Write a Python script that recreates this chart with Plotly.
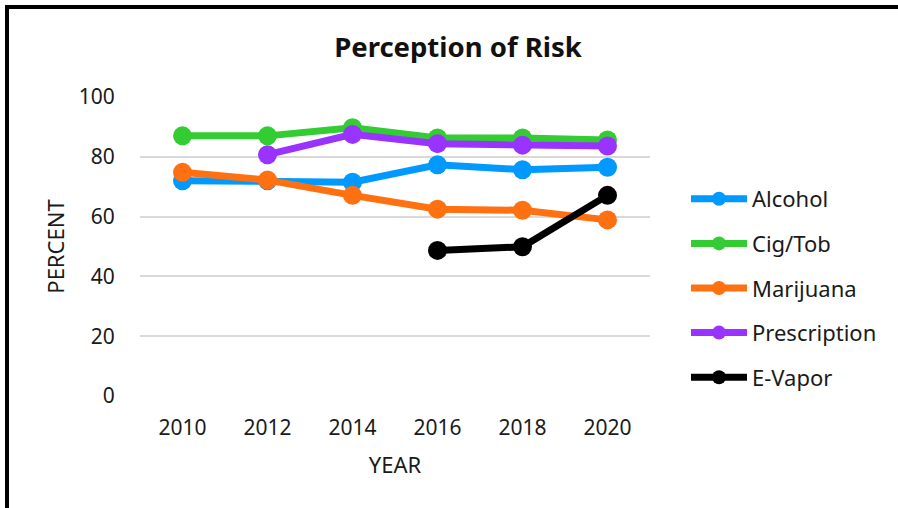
import plotly.graph_objects as go

years = ["2010", "2012", "2014", "2016", "2018", "2020"]
alcohol = [72.0, 72.0, 71.5, 77.3, 75.7, 76.5]
cig_tob = [87.0, 87.0, 89.7, 86.3, 86.3, 85.6]
marijuana = [74.8, 72.2, 67.1, 62.5, 62.1, 58.9]
prescription = [None, 80.7, 87.5, 84.4, 83.9, 83.6]
e_vapor = [None, None, None, 48.7, 49.9, 67.1]

series = [
    ("Alcohol", alcohol, "#0099FF"),
    ("Cig/Tob", cig_tob, "#33CC33"),
    ("Marijuana", marijuana, "#FF7011"),
    ("Prescription", prescription, "#9933FF"),
    ("E-Vapor", e_vapor, "#000000"),
]

FONT = "Noto Sans"
TXT = "#1a1a1a"

fig = go.Figure()
for name, vals, col in series:
    fig.add_trace(go.Scatter(
        x=years, y=vals, name=name, mode="lines+markers",
        line=dict(color=col, width=7),
        marker=dict(color=col, size=19),
        legendgroup=name, showlegend=False,
    ))
# legend entries (smaller symbols, as in the reference legend)
for name, vals, col in series:
    fig.add_trace(go.Scatter(
        x=[None], y=[None], name=name, mode="lines+markers",
        line=dict(color=col, width=7),
        marker=dict(color=col, size=14),
        legendgroup=name, showlegend=True,
    ))

L, R, T, B = 140, 248, 97, 112
W, H = 898, 508
pw, ph = W - L - R, H - T - B

def px(x):
    return (x - L) / pw

def py(y):
    return (H - B - y) / ph

fig.update_layout(
    width=W, height=H,
    margin=dict(l=L, r=R, t=T, b=B),
    paper_bgcolor="white", plot_bgcolor="white",
    font=dict(family=FONT, color=TXT),
    title=dict(text="<b>Perception of Risk</b>", x=458 / W, xanchor="center",
               y=1 - 47 / H, yanchor="middle", xref="container", yref="container",
               font=dict(size=27.5, color="#111111", family=FONT)),
    showlegend=True,
    legend=dict(x=px(686), xanchor="left", y=py(178), yanchor="top",
                font=dict(size=22, color=TXT, family=FONT),
                tracegroupgap=13, itemwidth=56, itemsizing="trace",
                bgcolor="rgba(0,0,0,0)"),
    xaxis=dict(
        type="category", range=[-0.5, 5.5],
        showgrid=False, showline=False, zeroline=False,
        ticks="outside", ticklen=13, tickcolor="rgba(0,0,0,0)",
        tickfont=dict(size=21, color=TXT),
        title=dict(text="YEAR", font=dict(size=22, color=TXT), standoff=17),
    ),
    yaxis=dict(
        range=[0, 100], dtick=20, tick0=0,
        showgrid=True, gridcolor="#D9D9D9", gridwidth=2,
        zeroline=False, showline=False,
        ticks="outside", ticklen=20, tickcolor="rgba(0,0,0,0)",
        tickfont=dict(size=21, color=TXT),
        title=dict(text="PERCENT", font=dict(size=22, color=TXT), standoff=8),
    ),
    shapes=[
        dict(type="line", xref="paper", yref="paper",
             x0=px(5), x1=px(W + 10), y0=py(7), y1=py(7),
             line=dict(color="black", width=4)),
        dict(type="line", xref="paper", yref="paper",
             x0=px(7), x1=px(7), y0=py(5), y1=py(H + 10),
             line=dict(color="black", width=4)),
    ],
)

fig.write_html("out.html", config={"displayModeBar": False},
               post_script="document.body.style.margin='0';document.body.style.overflow='hidden';")
